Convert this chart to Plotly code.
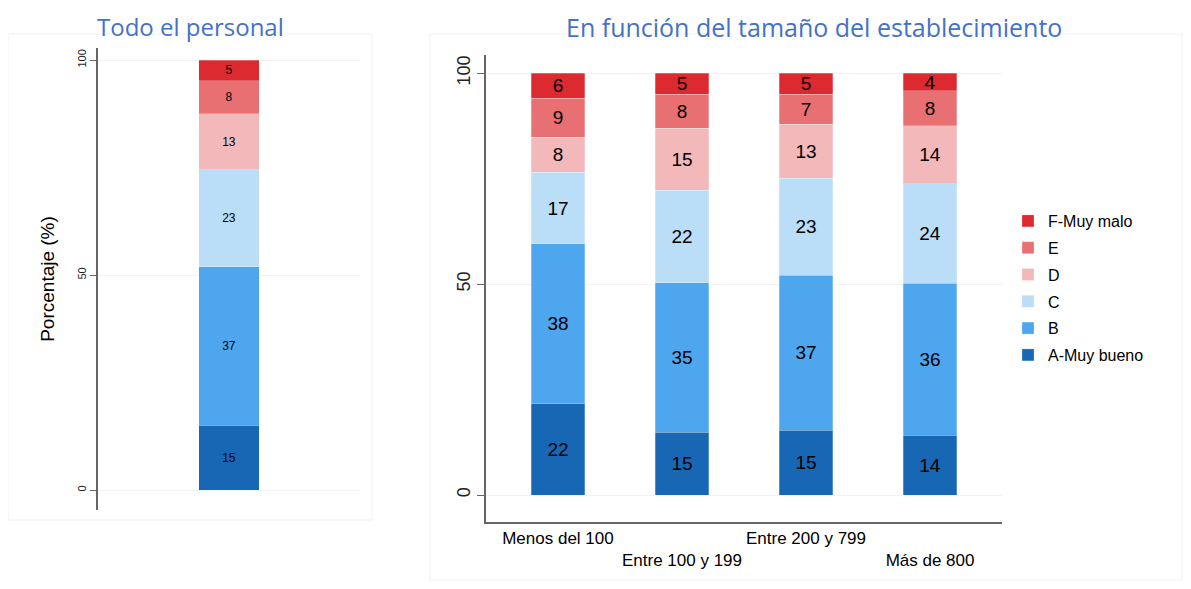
import plotly.graph_objects as go

# niveles (de abajo arriba) y colores
niveles = ["A-Muy bueno", "B", "C", "D", "E", "F-Muy malo"]
colores = ["#1767B4", "#4EA6EE", "#BADDF8", "#F2B8BA", "#E87073", "#DC2A30"]

# Todo el personal (%)
total_cat = ["Total"]
total_vals = {
    "A-Muy bueno": [15.1],
    "B": [36.8],
    "C": [22.6],
    "D": [13.0],
    "E": [7.7],
    "F-Muy malo": [4.8],
}

# Por tamaño del establecimiento (%)
tamanos = ["Menos del 100", "Entre 100 y 199", "Entre 200 y 799", "Más de 800"]
tamano_ticks = ["Menos del 100", "<br>Entre 100 y 199", "Entre 200 y 799", "<br>Más de 800"]
tamano_vals = {
    "A-Muy bueno": [21.6, 14.9, 15.4, 14.2],
    "B": [37.9, 35.4, 36.7, 36.0],
    "C": [17.0, 22.0, 23.0, 23.6],
    "D": [8.3, 14.6, 12.8, 13.7],
    "E": [9.3, 8.1, 7.1, 8.3],
    "F-Muy malo": [5.9, 5.0, 5.0, 4.2],
}

# la página pone el gráfico a 8px del borde (margen del body)
OFF = 8
W, H = 1191 - 2 * OFF, 589 - 2 * OFF
TITLE_BLUE = "#4472C4"


def px_x(p):
    return (p - OFF) / W


def px_y(p):
    return 1 - (p - OFF) / H


fig = go.Figure()

for nivel, color in zip(niveles, colores):
    fig.add_trace(go.Bar(
        x=total_cat, y=total_vals[nivel], name=nivel,
        marker=dict(color=color, line=dict(color="rgba(255,255,255,0.5)", width=0.5)),
        width=0.23, xaxis="x", yaxis="y", showlegend=False,
        text=[f"{v:.0f}" for v in total_vals[nivel]],
        textposition="inside", insidetextanchor="middle", textangle=0,
        constraintext="none",
        textfont=dict(family="Arial", size=12, color="black"),
        hoverinfo="name+y",
    ))

for i, (nivel, color) in enumerate(zip(niveles, colores)):
    fig.add_trace(go.Bar(
        x=tamanos, y=tamano_vals[nivel], name=nivel,
        marker=dict(color=color, line=dict(color="rgba(255,255,255,0.5)", width=0.5)),
        width=0.43, xaxis="x2", yaxis="y2",
        legendgroup=nivel, legendrank=len(niveles) - i,
        text=[f"{v:.0f}" for v in tamano_vals[nivel]],
        textposition="inside", insidetextanchor="middle", textangle=0,
        constraintext="none",
        textfont=dict(family="Arial", size=19, color="black"),
        hoverinfo="name+y",
    ))

axis_line = dict(showline=True, linecolor="#666666", linewidth=1.5)

fig.update_layout(
    width=W, height=H,
    barmode="stack",
    plot_bgcolor="white",
    paper_bgcolor="white",
    margin=dict(l=0, r=0, t=0, b=0),
    font=dict(family="Arial", color="black"),
    xaxis=dict(domain=[px_x(98), px_x(360)], range=[-0.5, 0.5],
               showticklabels=False, ticks="", showgrid=False, zeroline=False,
               showline=False, anchor="y"),
    yaxis=dict(domain=[px_y(510), px_y(48)], range=[-4.65, 102.8],
               tickvals=[0, 50, 100], tickangle=-90, ticks="outside", ticklen=6,
               tickcolor="#666666", tickfont=dict(size=11, color="#222"),
               showgrid=True, gridcolor="#EEF3F5", zeroline=False,
               title=dict(text="Porcentaje (%)", font=dict(size=19), standoff=16),
               anchor="x", **axis_line),
    xaxis2=dict(domain=[px_x(486), px_x(1002)], range=[-0.58, 3.58],
                tickvals=tamanos, ticktext=tamano_ticks, ticks="",
                tickfont=dict(size=17), showgrid=False, zeroline=False,
                anchor="y2", **axis_line),
    yaxis2=dict(domain=[px_y(522), px_y(55)], range=[-6.4, 104.3],
                tickvals=[0, 50, 100], tickangle=-90, ticks="outside", ticklen=7,
                tickcolor="#666666", tickfont=dict(size=18, color="#222"),
                showgrid=True, gridcolor="#EEF3F5", zeroline=False,
                anchor="x2", **axis_line),
    legend=dict(x=px_x(1008), y=px_y(204), xanchor="left", yanchor="top",
                traceorder="grouped", font=dict(size=16), tracegroupgap=3,
                bgcolor="rgba(0,0,0,0)"),
    shapes=[
        dict(type="rect", xref="paper", yref="paper",
             x0=px_x(8), x1=px_x(372), y0=px_y(520), y1=px_y(34),
             line=dict(color="#EEF1F3", width=1), layer="below"),
        dict(type="rect", xref="paper", yref="paper",
             x0=px_x(430), x1=px_x(1182), y0=px_y(580), y1=px_y(34),
             line=dict(color="#EEF1F3", width=1), layer="below"),
    ],
    annotations=[
        dict(text="Todo el personal", xref="paper", yref="paper",
             x=px_x(190), y=1, xanchor="center", yanchor="top",
             showarrow=False, font=dict(family="Open Sans", size=24, color=TITLE_BLUE)),
        dict(text="En función del tamaño del establecimiento", xref="paper", yref="paper",
             x=px_x(814), y=1, xanchor="center", yanchor="top",
             showarrow=False, font=dict(family="Open Sans", size=25, color=TITLE_BLUE)),
    ],
)

fig.write_html("out.html")
